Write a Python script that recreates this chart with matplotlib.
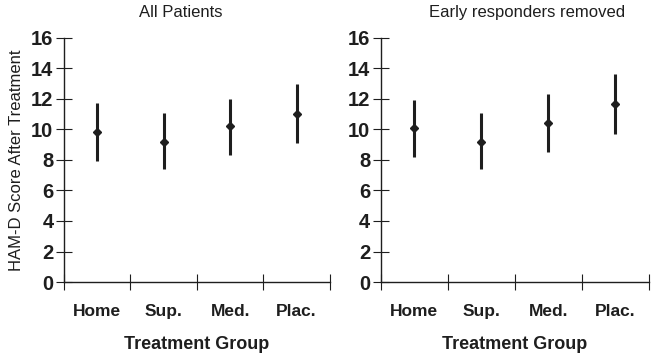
import matplotlib
matplotlib.use("Agg")
import matplotlib.pyplot as plt

plt.rcParams['font.family'] = ['Liberation Sans', 'DejaVu Sans']

groups = ["Home", "Sup.", "Med.", "Plac."]

# all patients: mean, lower, upper
all_mean = [9.8, 9.2, 10.2, 11.0]
all_low = [7.9, 7.4, 8.3, 9.1]
all_high = [11.7, 11.1, 12.0, 12.95]

# early responders removed
early_mean = [10.1, 9.2, 10.4, 11.65]
early_low = [8.2, 7.4, 8.5, 9.7]
early_high = [11.95, 11.1, 12.35, 13.6]

ink = "#1e1e1e"


def panel(ax, title, mean, low, high, title_x):
    pos = [i + 0.5 for i in range(len(groups))]
    err = [[m - l for m, l in zip(mean, low)], [h - m for m, h in zip(mean, high)]]
    ax.errorbar(pos, mean, yerr=err, fmt="D", color=ink, ms=4.5,
                elinewidth=2.2, capsize=0)
    ax.set_xlim(0, 4)
    ax.set_ylim(0, 16)
    ax.spines['top'].set_visible(False)
    ax.spines['right'].set_visible(False)
    ax.spines['left'].set_bounds(0, 16)
    for s in ("left", "bottom"):
        ax.spines[s].set_color(ink)
        ax.spines[s].set_linewidth(1.0)
    ax.set_yticks(range(0, 17, 2))
    ax.set_xticks(range(0, 5))
    ax.set_xticklabels([])
    ax.set_xticks(pos, minor=True)
    ax.set_xticklabels(groups, minor=True, fontsize=12.5, fontweight="bold", color=ink)
    ax.tick_params(axis="x", which="minor", length=0, pad=16)
    ax.tick_params(axis="x", which="major", direction="inout", length=11, color=ink)
    ax.tick_params(axis="y", direction="inout", length=11, color=ink,
                   labelsize=14.5, labelcolor=ink, pad=2)
    for t in ax.get_yticklabels():
        t.set_fontweight("bold")
    ax.set_xlabel("Treatment Group", fontsize=13, fontweight="bold", color=ink, labelpad=12)
    ax.set_title(title, fontsize=12, color=ink, x=title_x, pad=15)


fig = plt.figure(figsize=(6.52, 3.57), dpi=100)
ax1 = fig.add_axes([0.098, 0.21, 0.408, 0.684])
ax2 = fig.add_axes([0.584, 0.21, 0.411, 0.684])

panel(ax1, "All Patients", all_mean, all_low, all_high, 0.44)
panel(ax2, "Early responders removed", early_mean, early_low, early_high, 0.545)
ax1.set_ylabel("HAM-D Score After Treatment", fontsize=12, color=ink, labelpad=5)

fig.savefig("out.png", dpi=100)
